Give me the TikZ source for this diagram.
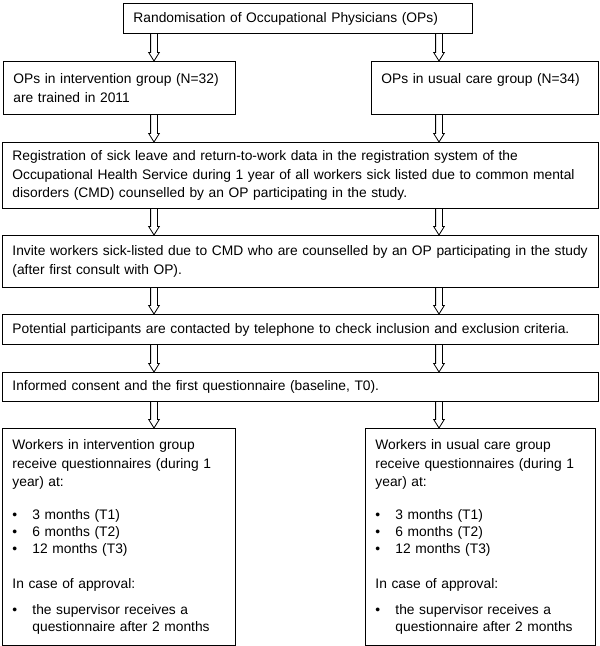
\documentclass[tikz,border=0pt]{standalone}
\usepackage{fontspec}
\setmainfont{Liberation Sans}
\usetikzlibrary{calc}
\newcommand\bul{\makebox[20pt][l]{\textbullet}}
\newcommand\hollowarrow[3]{%
  \draw[arrowline] ($(#1|-#2.south)+(-3.4,0)$) -- ($(#1|-#3.north)+(-3.4,-8.5)$)
    -- ($(#1|-#3.north)+(-5.3,-8.5)$) -- (#1|-#3.north)
    -- ($(#1|-#3.north)+(5.3,-8.5)$) -- ($(#1|-#3.north)+(3.4,-8.5)$)
    -- ($(#1|-#2.south)+(3.4,0)$);}
\begin{document}
\begin{tikzpicture}[x=1pt,y=-1pt,
  box/.style={draw, line width=0.9pt, anchor=north west, inner xsep=10pt, inner ysep=0pt,
    align=left, font=\fontsize{13.8}{18.5}\selectfont},
  arrowline/.style={draw, line width=0.8pt, line join=miter}]
\useasboundingbox[fill=white] (0,0) rectangle (600,646);
\node[box, minimum width=349pt, minimum height=30pt, text width=329pt] (b1) at (123,3)
  {Randomisation of Occupational Physicians (OPs)};
\node[box, minimum width=232pt, minimum height=53pt, text width=212pt] (b2l) at (3,61)
  {OPs in intervention group (N=32)\\are trained in 2011};
\node[box, minimum width=227pt, minimum height=53pt, text width=207pt] (b2r) at (371,61)
  {OPs in usual care group (N=34)\\\mbox{}};
\node[box, minimum width=596pt, minimum height=66pt, text width=576pt] (b3) at (2,142)
  {Registration of sick leave and return-to-work data in the registration system of the\\
   Occupational Health Service during 1 year of all workers sick listed due to common mental\\
   disorders (CMD) counselled by an OP participating in the study.};
\node[box, minimum width=596pt, minimum height=52pt, text width=576pt] (b4) at (2,235)
  {Invite workers sick-listed due to CMD who are counselled by an OP participating in the study\\
   (after first consult with OP).};
\node[box, minimum width=596pt, minimum height=30pt, text width=576pt] (b5) at (2,314)
  {Potential participants are contacted by telephone to check inclusion and exclusion criteria.};
\node[box, minimum width=596pt, minimum height=29pt, text width=576pt] (b6) at (2,372)
  {Informed consent and the first questionnaire (baseline, T0).};
\node[box, minimum width=233pt, minimum height=217pt, text width=213pt] (b7l) at (2,428)
  {Workers in intervention group\\receive questionnaires (during 1\\year) at:\\[14.5pt]
   \bul 3 months (T1)\\[-1.5pt]\bul 6 months (T2)\\[-1.5pt]\bul 12 months (T3)\\[16.5pt]
   In case of approval:\\[7.5pt]
   \bul the supervisor receives a\\[-1.5pt]\hspace*{20pt}questionnaire after 2 months};
\node[box, minimum width=230pt, minimum height=217pt, text width=210pt] (b7r) at (365,428)
  {Workers in usual care group\\receive questionnaires (during 1\\year) at:\\[14.5pt]
   \bul 3 months (T1)\\[-1.5pt]\bul 6 months (T2)\\[-1.5pt]\bul 12 months (T3)\\[16.5pt]
   In case of approval:\\[7.5pt]
   \bul the supervisor receives a\\[-1.5pt]\hspace*{20pt}questionnaire after 2 months};
\coordinate (L) at (154,0);
\coordinate (R) at (439,0);
\hollowarrow{L}{b1}{b2l}
\hollowarrow{R}{b1}{b2r}
\hollowarrow{L}{b2l}{b3}
\hollowarrow{R}{b2r}{b3}
\hollowarrow{L}{b3}{b4}
\hollowarrow{R}{b3}{b4}
\hollowarrow{L}{b4}{b5}
\hollowarrow{R}{b4}{b5}
\hollowarrow{L}{b5}{b6}
\hollowarrow{R}{b5}{b6}
\hollowarrow{L}{b6}{b7l}
\hollowarrow{R}{b6}{b7r}
\end{tikzpicture}
\end{document}
